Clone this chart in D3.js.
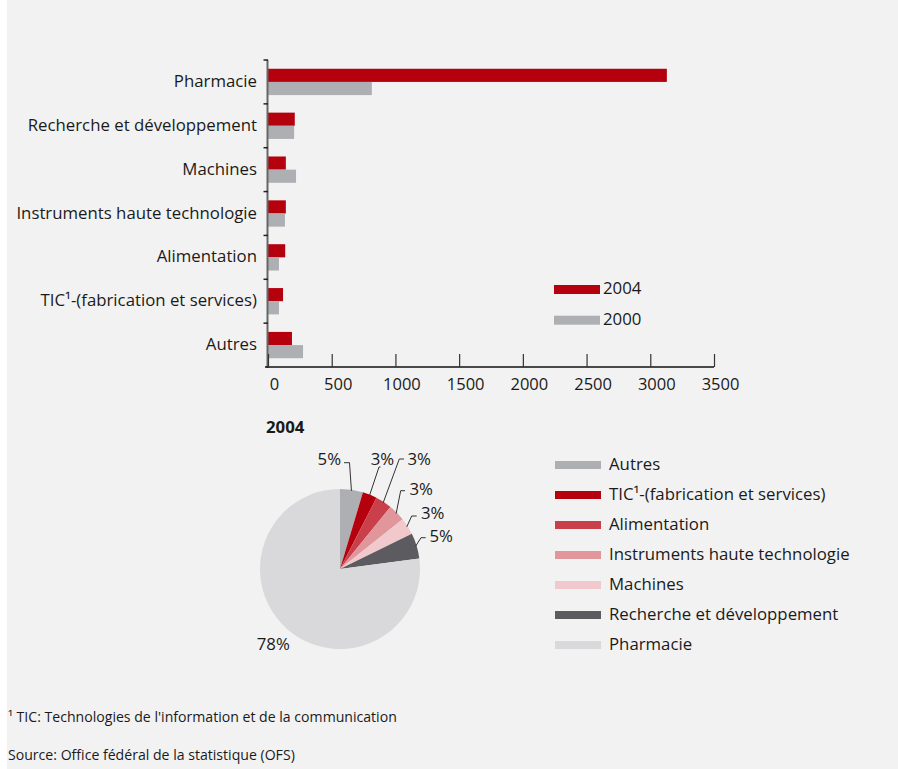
<!DOCTYPE html>
<html>
<head>
<meta charset="utf-8">
<script src="https://cdn.jsdelivr.net/npm/d3@7"></script>
<style>
  html, body { margin: 0; padding: 0; background: #ffffff; }
  svg { display: block; }
  text { font-family: "Open Sans", "Noto Sans", sans-serif; fill: #1a1a1a; }
</style>
</head>
<body>
<svg id="chart" width="898" height="769"></svg>
<script>
// ---------- data ----------
const categories = ["Pharmacie", "Recherche et développement", "Machines",
  "Instruments haute technologie", "Alimentation", "TIC¹-(fabrication et services)", "Autres"];
const values2004 = [3130, 210, 140, 140, 135, 118, 188];
const values2000 = [815, 205, 220, 133, 86, 86, 275];
const seriesNames = ["2004", "2000"];
const xTicks = [0, 500, 1000, 1500, 2000, 2500, 3000, 3500];

const pieCategories = ["Autres", "TIC¹-(fabrication et services)", "Alimentation",
  "Instruments haute technologie", "Machines", "Recherche et développement", "Pharmacie"];
const pieLabels = ["5%", "3%", "3%", "3%", "3%", "5%", "78%"];
const pieTitle = "2004";
const footnote = "¹ TIC: Technologies de l'information et de la communication";
const source = "Source: Office fédéral de la statistique (OFS)";

// ---------- styles ----------
const seriesColors = ["#b5000e", "#aeafb2"];
const pieColors = ["#aeafb2", "#b5000e", "#c9404a", "#e0969b", "#f1c9cc", "#5b5b60", "#d9d9db"];
const FS = 16.8;

const svg = d3.select("#chart");
svg.append("rect").attr("x", 7).attr("y", 0).attr("width", 891).attr("height", 769).attr("fill", "#f2f2f2");

// ---------- bar chart ----------
const x = d3.scaleLinear().domain([0, 3500]).range([268, 714]);
const y = d3.scaleBand().domain(categories).range([60, 367]).paddingInner(0.4).paddingOuter(0.2);
const ySub = d3.scaleBand().domain(seriesNames).range([0, y.bandwidth()]);
const yFull = d3.scaleBand().domain(categories).range([60, 367]);

const bars = svg.append("g");
const seriesData = [values2004, values2000];
seriesNames.forEach((s, si) => {
  bars.selectAll(null).data(categories).enter().append("rect")
    .attr("x", x(0))
    .attr("y", d => y(d) + ySub(s))
    .attr("width", (d, i) => x(seriesData[si][i]) - x(0))
    .attr("height", ySub.bandwidth())
    .attr("fill", seriesColors[si]);
});

// y axis line and ticks at band boundaries
svg.append("line").attr("x1", 267.5).attr("x2", 267.5).attr("y1", 60).attr("y2", 368)
  .attr("stroke", "#666").attr("stroke-width", 2);
svg.append("g").selectAll("line").data(categories).enter().append("line")
  .attr("x1", 263.5).attr("x2", 268).attr("y1", d => yFull(d)).attr("y2", d => yFull(d))
  .attr("stroke", "#222").attr("stroke-width", 1.5);
svg.append("g").selectAll("text").data(categories).enter().append("text")
  .attr("x", 257).attr("y", d => yFull(d) + yFull.bandwidth() / 2 + 5)
  .attr("text-anchor", "end").attr("font-size", FS).text(d => d);

// x axis
const xAxis = svg.append("g").attr("transform", "translate(0,367)")
  .call(d3.axisBottom(x).tickValues(xTicks).tickSize(-13).tickSizeOuter(0).tickPadding(11).tickFormat(d3.format("d")));
xAxis.select(".domain").attr("d", "M265,0H714").attr("stroke", "#111").attr("stroke-width", 1.5);
xAxis.selectAll(".tick line").attr("stroke", "#333").attr("stroke-width", 1.2);
xAxis.selectAll(".tick text").attr("font-size", 16.5).attr("dx", 6)
  .attr("font-family", "'Open Sans', sans-serif").attr("fill", "#1a1a1a");

// bar legend
const bl = svg.append("g");
seriesNames.forEach((s, i) => {
  bl.append("rect").attr("x", 554).attr("y", 285 + i * 30.7).attr("width", 46).attr("height", 9).attr("fill", seriesColors[i]);
  bl.append("text").attr("x", 603).attr("y", 293.5 + i * 31.5).attr("font-size", FS).text(s);
});

// ---------- pie ----------
const cx = 340, cy = 569, r = 80;
const pieG = svg.append("g").attr("transform", `translate(${cx},${cy})`);
const pie = d3.pie().sort(null).value(d => d)(values2004.slice().reverse());
const arc = d3.arc().innerRadius(0).outerRadius(r);
pieG.selectAll("path").data(pie).enter().append("path")
  .attr("d", arc).attr("fill", (d, i) => pieColors[i]);

svg.append("text").attr("x", 266).attr("y", 433).attr("font-size", FS).attr("font-weight", "bold").text(pieTitle);

// label layout relative to pie centre: elbow, tail end, text position
const labelLayout = [
  { ex: 9.5, ey: -106.3, tx: 4, lx: 1, ly: -104, anchor: "end" },
  { ex: 39, ey: -102, tx: 40.5, lx: 30.7, ly: -104, anchor: "start" },
  { ex: 59.3, ey: -110, tx: 64, lx: 67.5, ly: -104, anchor: "start" },
  { ex: 60.7, ey: -78.3, tx: 65, lx: 69.5, ly: -74, anchor: "start" },
  { ex: 71.7, ey: -53, tx: 76.7, lx: 81, ly: -49.7, anchor: "start" },
  { ex: 81, ey: -31.3, tx: 85.7, lx: 89.5, ly: -27.3, anchor: "start" },
  { ex: null, lx: -83.3, ly: 81, anchor: "start" }
];
pie.forEach((p, i) => {
  const L = labelLayout[i];
  if (L.ex !== null) {
    const a = (p.startAngle + p.endAngle) / 2;
    const ax = Math.sin(a) * (r - 1), ay = -Math.cos(a) * (r - 1);
    pieG.append("polyline")
      .attr("points", `${ax},${ay} ${L.ex},${L.ey} ${L.tx},${L.ey}`)
      .attr("fill", "none").attr("stroke", "#333").attr("stroke-width", 1);
  }
  pieG.append("text").attr("x", L.lx).attr("y", L.ly).attr("text-anchor", L.anchor)
    .attr("font-size", FS).text(pieLabels[i]);
});

// pie legend
const pl = svg.append("g");
pieCategories.forEach((c, i) => {
  pl.append("rect").attr("x", 555).attr("y", 461 + i * 30).attr("width", 46).attr("height", 8).attr("fill", pieColors[i]);
  pl.append("text").attr("x", 609).attr("y", 469.5 + i * 30).attr("font-size", FS).text(c);
});

// footer
svg.append("text").attr("x", 8).attr("y", 722).attr("font-size", 14.1).text(footnote);
svg.append("text").attr("x", 8).attr("y", 760).attr("font-size", 14.1).text(source);
</script>
</body>
</html>
